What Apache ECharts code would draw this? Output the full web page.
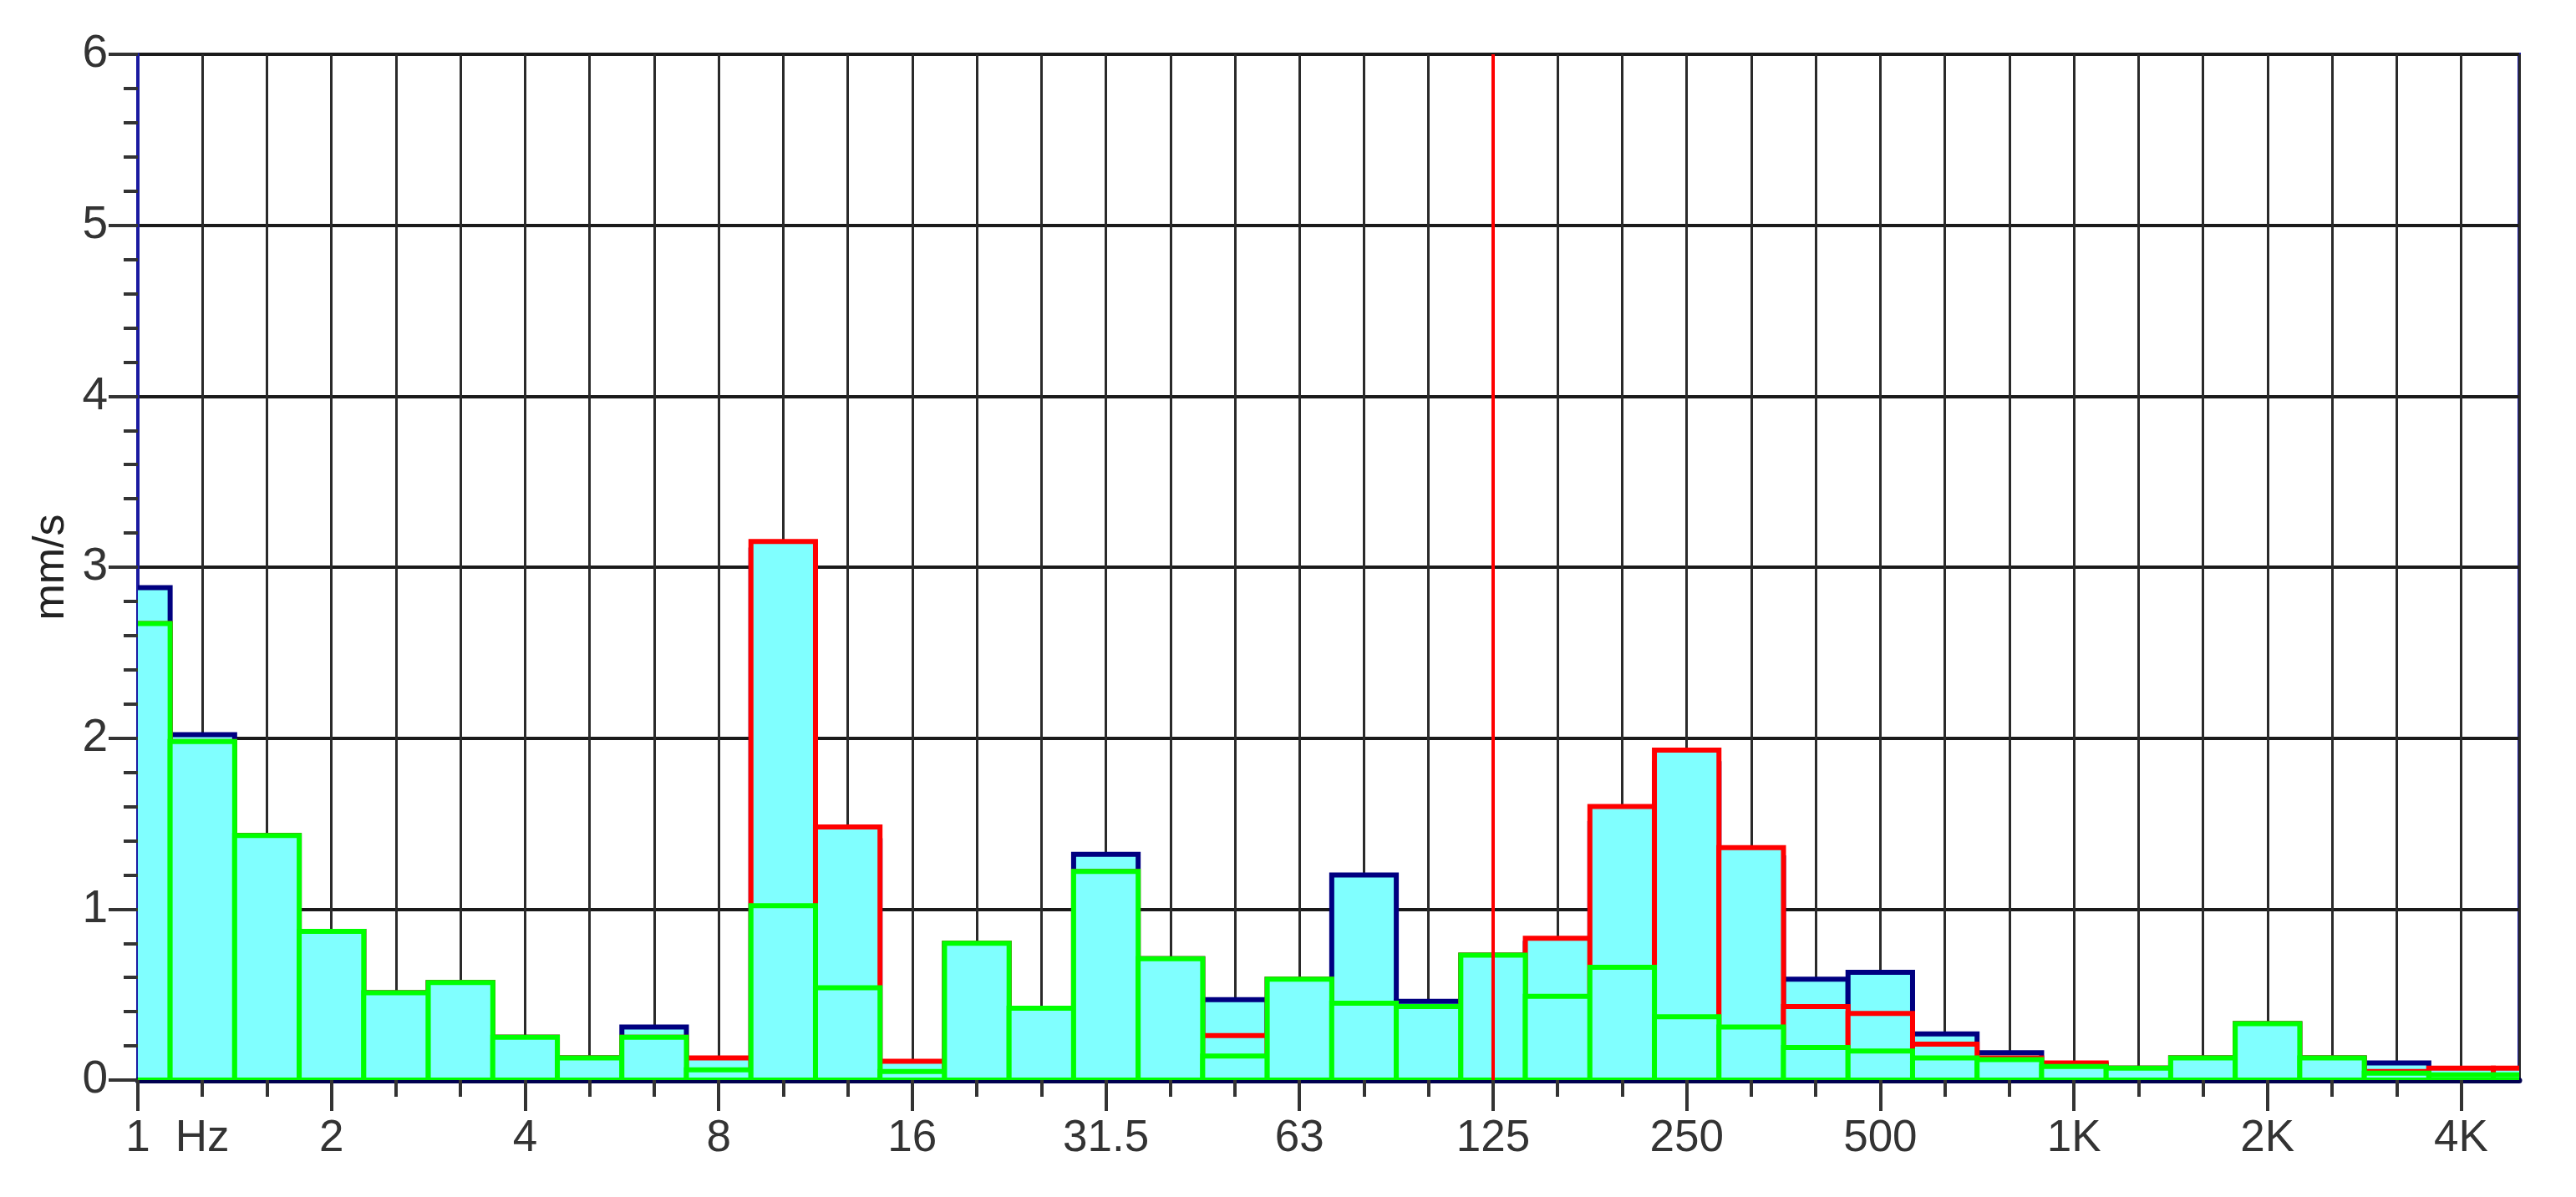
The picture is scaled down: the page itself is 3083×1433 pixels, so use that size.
<!DOCTYPE html>
<html>
<head>
<meta charset="utf-8">
<script src="https://cdn.jsdelivr.net/npm/echarts@6/dist/echarts.min.js"></script>
<style>
  html, body { margin: 0; padding: 0; background: #fff; }
  #chart { width: 3083px; height: 1433px; }
</style>
</head>
<body>
<div id="chart"></div>
<script>
// 1/3 octave bands, index 0 = 1 Hz ... 37 = 5 kHz
const bands = ['1','1.25','1.6','2','2.5','3.15','4','5','6.3','8','10','12.5','16','20','25','31.5','40','50','63','80','100','125','160','200','250','315','400','500','630','800','1K','1.25K','1.6K','2K','2.5K','3.15K','4K','5K'];
const tickLabels = {0: '1', 1: 'Hz', 3: '2', 6: '4', 9: '8', 12: '16', 15: '31.5', 18: '63', 21: '125', 24: '250', 27: '500', 30: '1K', 33: '2K', 36: '4K'};
const majorTicks = [0, 3, 6, 9, 12, 15, 18, 21, 24, 27, 30, 33, 36];

const blueValues  = [2.88, 2.02, 1.43, 0.87, 0.51, 0.57, 0.25, 0.13, 0.31, 0.10, 3.10, 1.40, 0.08, 0.80, 0.42, 1.32, 0.71, 0.47, 0.59, 1.20, 0.46, 0.73, 0.80, 1.50, 1.85, 1.30, 0.59, 0.63, 0.27, 0.16, 0.09, 0.07, 0.13, 0.33, 0.13, 0.10, 0.05, 0.05];
const redValues   = [2.67, 1.98, 1.43, 0.87, 0.51, 0.57, 0.25, 0.13, 0.25, 0.13, 3.15, 1.48, 0.11, 0.80, 0.42, 1.22, 0.71, 0.26, 0.59, 0.45, 0.43, 0.73, 0.83, 1.60, 1.93, 1.36, 0.43, 0.39, 0.21, 0.13, 0.10, 0.07, 0.13, 0.33, 0.13, 0.05, 0.07, 0.07];
const greenValues = [2.67, 1.98, 1.43, 0.87, 0.51, 0.57, 0.25, 0.13, 0.25, 0.06, 1.02, 0.54, 0.05, 0.80, 0.42, 1.22, 0.71, 0.14, 0.59, 0.45, 0.43, 0.73, 0.49, 0.66, 0.37, 0.31, 0.19, 0.17, 0.13, 0.12, 0.08, 0.07, 0.13, 0.33, 0.13, 0.04, 0.03, 0.03];

const FILL = '#80FFFF';
const FONT = 'Liberation Sans, Arial, sans-serif';

function bandSeries(name, values, color, z) {
    return {
        name: name,
        type: 'custom',
        clip: true,
        z: z,
        data: values.map((v, i) => [i, v]),
        renderItem: function (params, api) {
            const i = api.value(0);
            const p0 = api.coord([i - 0.5, api.value(1)]);
            const p1 = api.coord([i + 0.5, 0]);
            return {
                type: 'rect',
                shape: { x: p0[0], y: p0[1], width: p1[0] - p0[0], height: p1[1] - p0[1] },
                style: { fill: FILL, stroke: color, lineWidth: 6 }
            };
        }
    };
}

const chart = echarts.init(document.getElementById('chart'));
chart.setOption({
    animation: false,
    backgroundColor: '#fff',
    grid: {
        left: 165, right: 68, top: 65, bottom: 140,
        show: true, borderColor: '#1a1aa0', borderWidth: 4, backgroundColor: 'transparent'
    },
    xAxis: [{
        type: 'value',
        min: 0,
        max: 36.9,
        interval: 1,
        axisLine: { show: true, onZero: false, lineStyle: { color: '#000050', width: 7 } },
        axisTick: { show: true, length: 20, lineStyle: { color: '#333', width: 4 } },
        splitLine: { show: true, lineStyle: { color: '#2a2a2a', width: 3 } },
        axisLabel: {
            showMaxLabel: false,
            fontSize: 53, fontFamily: FONT, color: '#333', margin: 44,
            formatter: v => tickLabels[v] !== undefined ? tickLabels[v] : ''
        }
    }, {
        // longer ticks at the labelled octave bands
        type: 'value',
        position: 'bottom',
        min: 0,
        max: 36.9,
        axisLine: { show: false },
        axisTick: { show: true, length: 37, customValues: majorTicks, lineStyle: { color: '#333', width: 4 } },
        splitLine: { show: false },
        axisLabel: { show: false }
    }],
    yAxis: {
        type: 'value',
        min: 0, max: 6, interval: 1,
        name: 'mm/s',
        nameLocation: 'middle',
        nameGap: 48,
        nameTextStyle: { fontSize: 52, fontFamily: FONT, color: '#222' },
        axisLine: { show: true, lineStyle: { color: '#1a1aa0', width: 4 } },
        axisTick: { show: true, length: 35, lineStyle: { color: '#333', width: 4 } },
        minorTick: { show: true, splitNumber: 5, length: 17, lineStyle: { color: '#333', width: 4 } },
        splitLine: { show: true, lineStyle: { color: '#1a1a1a', width: 4 } },
        axisLabel: { fontSize: 55, fontFamily: FONT, color: '#333', margin: 36 }
    },
    series: [
        bandSeries('blue', blueValues, '#000080', 2),
        bandSeries('red', redValues, '#FF0000', 3),
        Object.assign(bandSeries('green', greenValues, '#00FF00', 4), {
            markLine: {
                symbol: 'none', silent: true, label: { show: false },
                lineStyle: { color: '#FF0000', width: 4, type: 'solid' },
                data: [{ xAxis: 21 }]
            }
        })
    ]
});
</script>
</body>
</html>
